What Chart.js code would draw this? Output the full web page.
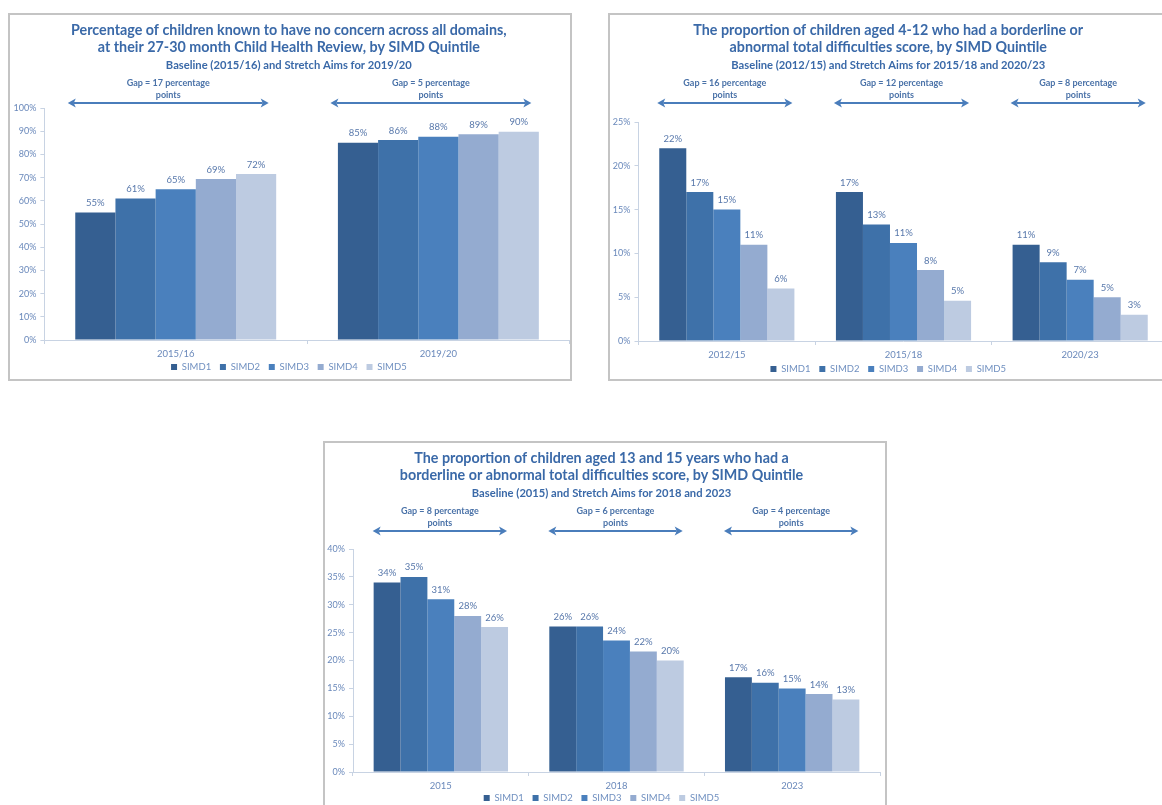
<!DOCTYPE html>
<html>
<head>
<meta charset="utf-8">
<title>SIMD quintile stretch aims</title>
<script src="https://cdn.jsdelivr.net/npm/chart.js@4.4.1/dist/chart.umd.min.js"></script>
<style>
  html, body { margin: 0; padding: 0; background: #ffffff; width: 1162px; height: 805px; overflow: hidden; position: relative; }
  .panel { position: absolute; }
  .panel canvas { display: block; }
</style>
</head>
<body>
<div class="panel" id="p1" style="left:8px; top:13px; width:564px; height:382px;"><canvas id="c1"></canvas></div>
<div class="panel" id="p2" style="left:608px; top:13px; width:564px; height:382px;"><canvas id="c2"></canvas></div>
<div class="panel" id="p3" style="left:323px; top:441px; width:564px; height:387px;"><canvas id="c3"></canvas></div>
<script>
// ---- Shared ----
const quintiles = ['SIMD1', 'SIMD2', 'SIMD3', 'SIMD4', 'SIMD5'];
const quintileColours = ['#355f91', '#3e71a9', '#4a80bd', '#94abd0', '#bdcbe1'];

// ---- 27-30 month review: no concern across all domains ----
const reviewPeriods = ['2015/16', '2019/20'];
const reviewSIMD1 = [55, 85];
const reviewSIMD2 = [61, 86.2];
const reviewSIMD3 = [65, 87.6];
const reviewSIMD4 = [69.4, 88.7];
const reviewSIMD5 = [71.5, 89.8];
const reviewGaps = [17, 5];
const reviewTicks = [0, 10, 20, 30, 40, 50, 60, 70, 80, 90, 100];

// ---- Ages 4-12: borderline or abnormal total difficulties score ----
const childPeriods = ['2012/15', '2015/18', '2020/23'];
const childSIMD1 = [22, 17, 11];
const childSIMD2 = [17, 13.3, 9];
const childSIMD3 = [15, 11.2, 7];
const childSIMD4 = [11, 8.1, 5];
const childSIMD5 = [6, 4.6, 3];
const childGaps = [16, 12, 8];
const childTicks = [0, 5, 10, 15, 20, 25];

// ---- Ages 13 and 15: borderline or abnormal total difficulties score ----
const teenYears = ['2015', '2018', '2023'];
const teenSIMD1 = [34, 26.1, 17];
const teenSIMD2 = [35, 26.1, 16];
const teenSIMD3 = [31, 23.6, 15];
const teenSIMD4 = [28, 21.6, 14];
const teenSIMD5 = [26, 20, 13];
const teenGaps = [8, 6, 4];
const teenTicks = [0, 5, 10, 15, 20, 25, 30, 35, 40];

const FONT = 'Lato';
const TITLE_COL = '#3a69a8';
const GAP_COL = '#4a72a8';
const ARROW_COL = '#4a7dbb';
const TICK_COL = '#6a89bb';
const LEGEND_COL = '#7090c0';
const VALUE_COL = '#5878ab';
const AXIS_COL = '#c8d3e3';
const FRAME_COL = '#c4c4c4';
const GROUP_PCT = 0.765;
const LEGEND_FONT = 9.5;
const LEGEND_PAD = 8.75;

// Grey outline round each panel
const panelFrame = {
  id: 'panelFrame',
  beforeDraw(chart, args, opts) {
    const ctx = chart.ctx;
    ctx.save();
    ctx.fillStyle = '#ffffff';
    ctx.fillRect(0, 0, chart.width, chart.height);
    ctx.strokeStyle = FRAME_COL;
    ctx.lineWidth = 2;
    ctx.strokeRect(1, 1, chart.width - 2, opts.boxHeight - 2);
    ctx.restore();
  }
};

// Pull the legend row up close under the category labels
const legendPlacer = {
  id: 'legendPlacer',
  afterLayout(chart, args, opts) {
    const lg = chart.legend;
    if (!lg) return;
    const h = lg.height;
    lg.top = chart.chartArea.bottom + opts.gap - (LEGEND_PAD + LEGEND_FONT / 2);
    lg.bottom = lg.top + h;
  }
};

// "Gap = N percentage points" notes with double-headed arrows over each group
const gapNotes = {
  id: 'gapNotes',
  afterDraw(chart, args, opts) {
    const ctx = chart.ctx;
    const x = chart.scales.x;
    const n = chart.data.labels.length;
    const half = (x.width / n) * GROUP_PCT / 2;
    const head = (tipX, y, dir) => {
      ctx.beginPath();
      ctx.moveTo(tipX, y);
      ctx.lineTo(tipX + dir * 8, y - 4.5);
      ctx.lineTo(tipX + dir * 6, y);
      ctx.lineTo(tipX + dir * 8, y + 4.5);
      ctx.closePath();
      ctx.fill();
    };
    ctx.save();
    ctx.font = 'bold 9px ' + FONT;
    ctx.textAlign = 'center';
    ctx.textBaseline = 'middle';
    opts.gaps.forEach((g, i) => {
      const cx = x.getPixelForValue(i) + opts.shift;
      ctx.fillStyle = GAP_COL;
      ctx.fillText('Gap = ' + g + ' percentage', cx, 70);
      ctx.fillText('points', cx, 82.5);
      const y = 90;
      ctx.strokeStyle = ARROW_COL;
      ctx.fillStyle = ARROW_COL;
      ctx.lineWidth = 2;
      ctx.beginPath();
      ctx.moveTo(cx - half + 6, y);
      ctx.lineTo(cx + half - 6, y);
      ctx.stroke();
      head(cx - half, y, 1);
      head(cx + half, y, -1);
    });
    ctx.restore();
  }
};

// Percentage printed above every bar
const valueLabels = {
  id: 'valueLabels',
  afterDatasetsDraw(chart) {
    const ctx = chart.ctx;
    ctx.save();
    ctx.font = '9.5px ' + FONT;
    ctx.fillStyle = VALUE_COL;
    ctx.textAlign = 'center';
    ctx.textBaseline = 'middle';
    chart.data.datasets.forEach((ds, di) => {
      chart.getDatasetMeta(di).data.forEach((bar, i) => {
        ctx.fillText(Math.round(ds.data[i]) + '%', bar.x, bar.y - 9.5);
      });
    });
    ctx.restore();
  }
};

function buildChart(id, cfg) {
  const datasets = cfg.series.map((values, i) => ({
    label: quintiles[i],
    data: values,
    backgroundColor: quintileColours[i],
    borderWidth: 0,
    categoryPercentage: GROUP_PCT,
    barPercentage: 1.0
  }));
  return new Chart(document.getElementById(id), {
    type: 'bar',
    data: { labels: cfg.labels, datasets },
    plugins: [panelFrame, legendPlacer, gapNotes, valueLabels],
    options: {
      responsive: true,
      maintainAspectRatio: false,
      animation: false,
      devicePixelRatio: 1,
      layout: { padding: { left: 0, right: cfg.padRight, top: 0, bottom: cfg.padBottom } },
      plugins: {
        panelFrame: { boxHeight: cfg.boxHeight },
        legendPlacer: { gap: cfg.legendGap },
        gapNotes: { gaps: cfg.gaps, shift: cfg.arrowShift },
        title: {
          display: true,
          text: cfg.title,
          color: TITLE_COL,
          font: { family: FONT, size: 14.3, weight: 'bold', lineHeight: '17px' },
          padding: { top: 9, bottom: 0 }
        },
        subtitle: {
          display: true,
          text: cfg.subtitle,
          color: TITLE_COL,
          font: { family: FONT, size: 11.2, weight: 'bold', lineHeight: '13px' },
          padding: { top: 2.5, bottom: cfg.subPad }
        },
        legend: {
          position: 'bottom',
          labels: {
            boxWidth: 6,
            boxHeight: 6,
            padding: LEGEND_PAD,
            color: LEGEND_COL,
            font: { family: FONT, size: LEGEND_FONT }
          }
        },
        tooltip: { enabled: false }
      },
      scales: {
        x: {
          grid: { drawOnChartArea: false, drawTicks: true, tickLength: 4, color: AXIS_COL, offset: true },
          border: { color: AXIS_COL },
          ticks: { color: TICK_COL, font: { family: FONT, size: 9.5 }, padding: 4, maxRotation: 0 }
        },
        y: {
          min: 0,
          max: cfg.ticks[cfg.ticks.length - 1],
          afterBuildTicks(scale) { scale.ticks = cfg.ticks.map(v => ({ value: v })); },
          ticks: { color: TICK_COL, font: { family: FONT, size: 9 }, padding: 4, callback: v => v + '%' },
          grid: { drawOnChartArea: false, drawTicks: true, tickLength: 4, color: AXIS_COL },
          border: { color: AXIS_COL },
          afterFit(scale) { scale.width = cfg.axisWidth; }
        }
      }
    }
  });
}

buildChart('c1', {
  labels: reviewPeriods,
  series: [reviewSIMD1, reviewSIMD2, reviewSIMD3, reviewSIMD4, reviewSIMD5],
  gaps: reviewGaps,
  ticks: reviewTicks,
  title: ['Percentage of children known to have no concern across all domains,',
          'at their 27-30 month Child Health Review, by SIMD Quintile'],
  subtitle: 'Baseline (2015/16) and Stretch Aims for 2019/20',
  axisWidth: 36.4, padRight: 2.3, padBottom: 3.35, subPad: 36.5, legendGap: 27,
  boxHeight: 368, arrowShift: -7.5
});

buildChart('c2', {
  labels: childPeriods,
  series: [childSIMD1, childSIMD2, childSIMD3, childSIMD4, childSIMD5],
  gaps: childGaps,
  ticks: childTicks,
  title: ['The proportion of children aged 4-12 who had a borderline or',
          'abnormal total difficulties score, by SIMD Quintile'],
  subtitle: 'Baseline (2012/15) and Stretch Aims for 2015/18 and 2020/23',
  axisWidth: 30.5, padRight: 3.5, padBottom: 2.35, subPad: 50.5, legendGap: 28,
  boxHeight: 368, arrowShift: -2
});

buildChart('c3', {
  labels: teenYears,
  series: [teenSIMD1, teenSIMD2, teenSIMD3, teenSIMD4, teenSIMD5],
  gaps: teenGaps,
  ticks: teenTicks,
  title: ['The proportion of children aged 13 and 15 years who had a',
          'borderline or abnormal total difficulties score, by SIMD Quintile'],
  subtitle: 'Baseline (2015) and Stretch Aims for 2018 and 2023',
  axisWidth: 30, padRight: 7, padBottom: 4.35, subPad: 49.5, legendGap: 26,
  boxHeight: 372, arrowShift: -1
});
</script>
</body>
</html>
